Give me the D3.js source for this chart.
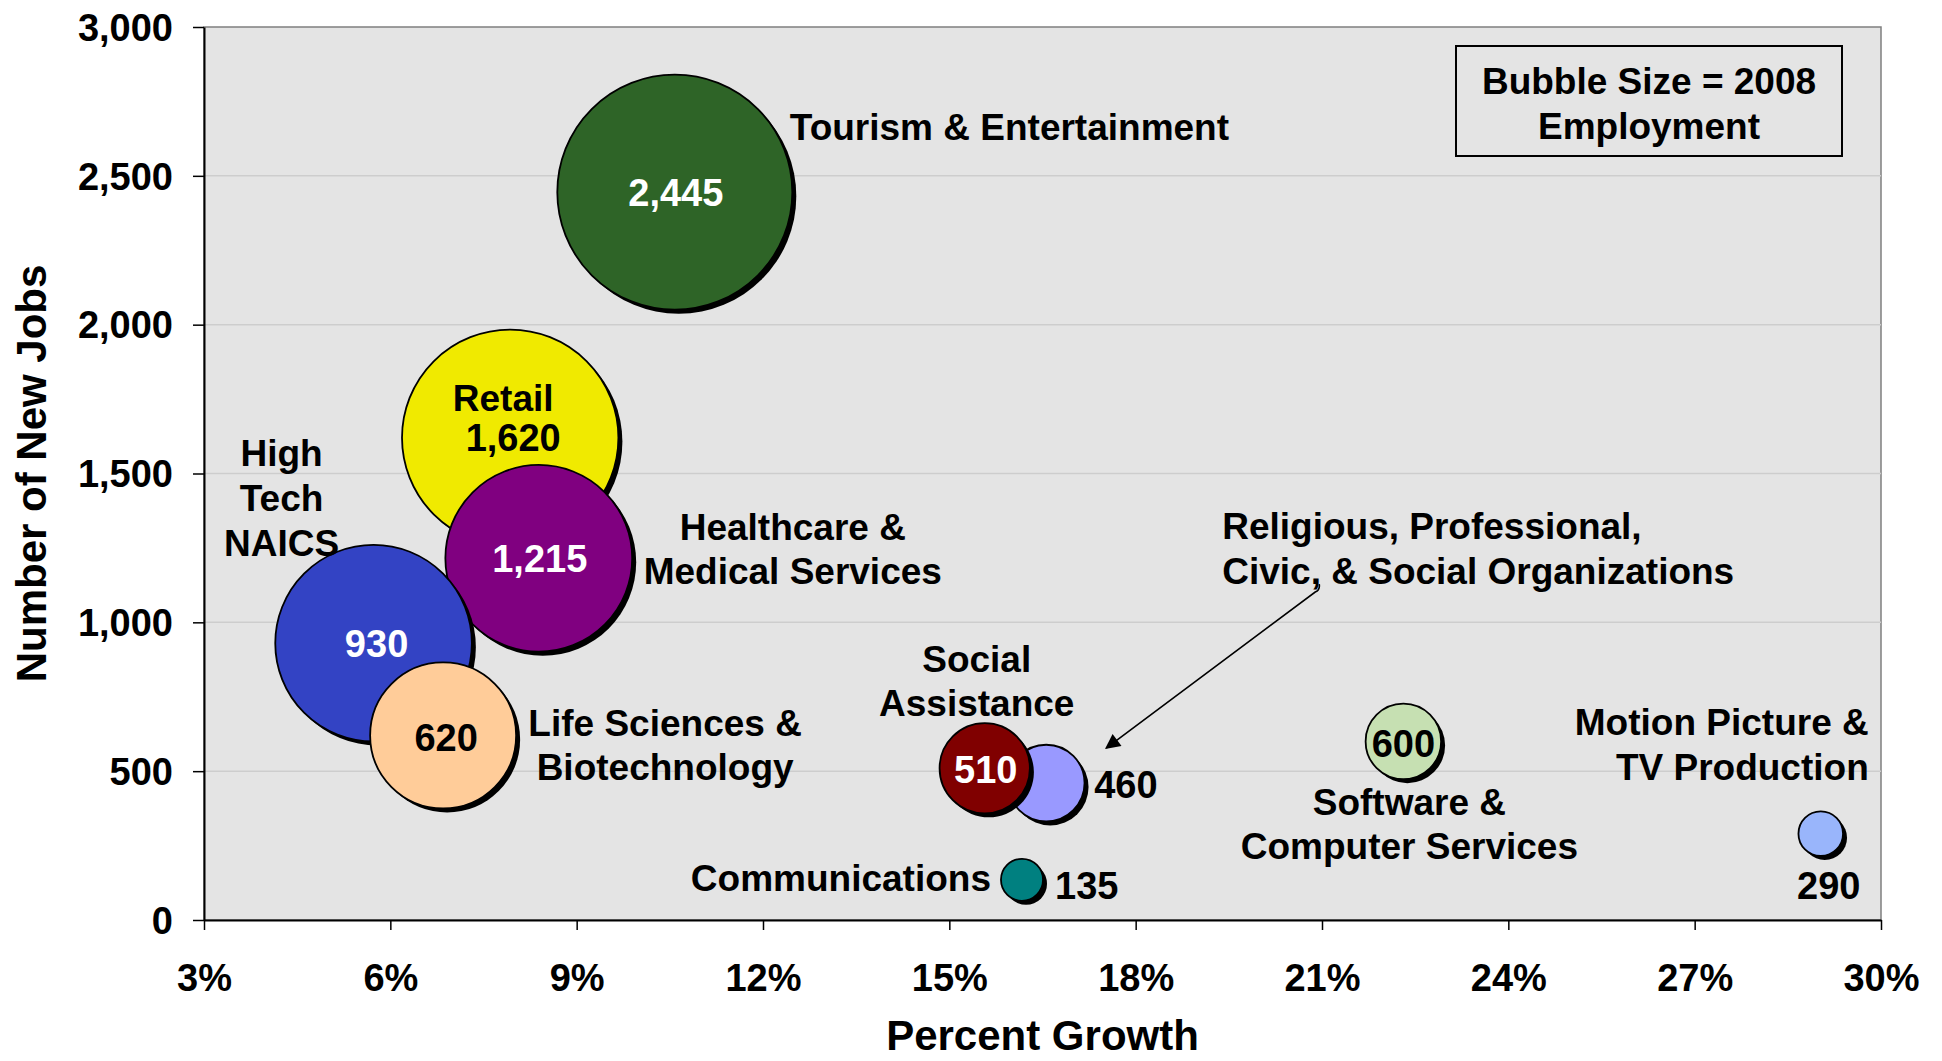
<!DOCTYPE html>
<meta charset="utf-8">
<style>
body{margin:0;background:#fff;}
svg text{font-family:"Liberation Sans",Arial,sans-serif;font-weight:bold;}
.tick text{font-size:38px;fill:#000;}
.names text{font-size:37px;}
.vals text{font-size:38px;}
</style>
<title>new jobs bubble chart</title>
<body>
<script src="https://d3js.org/d3.v7.min.js"></script>
<script>

// industry data (bubble size = 2008 employment)
var sectors = ["Tourism & Entertainment", "Retail", "Healthcare & Medical Services", "High Tech NAICS",
    "Life Sciences & Biotechnology", "Religious, Professional, Civic, & Social Organizations",
    "Social Assistance", "Communications", "Software & Computer Services", "Motion Picture & TV Production"];
var pctGrowth = [10.58, 7.93, 8.39, 5.73, 6.85, 16.56, 15.57, 16.17, 22.31, 29.03];
var newJobs = [2445, 1620, 1215, 930, 620, 460, 510, 135, 600, 290];
var employment2008 = [25000, 21200, 15800, 17500, 9650, 2660, 3690, 800, 2580, 900];
var nameLines = [["Tourism & Entertainment"], ["Retail"], ["Healthcare &", "Medical Services"], ["High", "Tech", "NAICS"],
    ["Life Sciences &", "Biotechnology"], ["Religious, Professional,", "Civic, & Social Organizations"],
    ["Social", "Assistance"], ["Communications"], ["Software &", "Computer Services"], ["Motion Picture &", "TV Production"]];

var xTicks = [3, 6, 9, 12, 15, 18, 21, 24, 27, 30];
var yTicks = [0, 500, 1000, 1500, 2000, 2500, 3000];

// styling / label placement (px offsets from bubble centre)
var fills = ["#2e6427", "#f0ea00", "#800080", "#3343c4", "#ffcc99", "#9999ff", "#800000", "#008080", "#c6e0b2", "#99b5fb"];
var layout = [
    {nx:115, ny:-66, na:"start", vx:1, vy:0, va:"middle", vc:"#fff"},
    {nx:-7, ny:-40, na:"middle", vx:3, vy:0, va:"middle", vc:"#000"},
    {nx:254, ny:-32, na:"middle", vx:1, vy:0, va:"middle", vc:"#fff"},
    {nx:-92, ny:-190, na:"middle", vx:3, vy:0, va:"middle", vc:"#fff"},
    {nx:222, ny:-13, na:"middle", vx:3, vy:2, va:"middle", vc:"#000"},
    {nx:176, ny:-257, na:"start", vx:48, vy:1, va:"start", vc:"#000"},
    {nx:-8, ny:-110, na:"middle", vx:1, vy:1, va:"middle", vc:"#fff"},
    {nx:-31, ny:-2, na:"end", vx:33, vy:6, va:"start", vc:"#000"},
    {nx:6, ny:60, na:"middle", vx:0, vy:2, va:"middle", vc:"#000"},
    {nx:48, ny:-112, na:"end", vx:8, vy:52, va:"middle", vc:"#000"}
];

var data = sectors.map(function(s, i){
    return {name:s, x:pctGrowth[i], y:newJobs[i], size:employment2008[i], lines:nameLines[i], fill:fills[i], lay:layout[i]};
});

var W = 1942, H = 1061;
var pL = 204, pR = 1881, pT = 27, pB = 920;

var svg = d3.select("body").append("svg").attr("width", W).attr("height", H);

var x = d3.scaleLinear().domain([3, 30]).range([pL, pR]);
var y = d3.scaleLinear().domain([0, 3000]).range([pB, pT]);
var r = d3.scaleSqrt().domain([0, d3.max(employment2008)]).range([0, 117.5]);

// plot area
svg.append("rect").attr("x", pL).attr("y", pT).attr("width", pR-pL).attr("height", pB-pT)
    .attr("fill", "#e4e4e4").attr("stroke", "#7f7f7f").attr("stroke-width", 1.5);

svg.append("g").selectAll("line").data(yTicks.slice(1, -1)).join("line")
    .attr("x1", pL).attr("x2", pR).attr("y1", d=>y(d)).attr("y2", d=>y(d))
    .attr("stroke", "#cdcdcd").attr("stroke-width", 1.5);

// axes
var yAxis = svg.append("g").attr("transform", "translate(" + pL + ",0)")
    .call(d3.axisLeft(y).tickValues(yTicks).tickFormat(d3.format(",")).tickSizeOuter(0).tickSizeInner(11).tickPadding(20));
var xAxis = svg.append("g").attr("transform", "translate(0," + pB + ")")
    .call(d3.axisBottom(x).tickValues(xTicks).tickFormat(d=>d + "%").tickSizeOuter(0).tickSizeInner(10).tickPadding(34));
[yAxis, xAxis].forEach(function(a){
    a.select(".domain").attr("stroke", "#000").attr("stroke-width", 2);
    a.selectAll(".tick line").attr("stroke", "#000").attr("stroke-width", 1.5);
});
yAxis.selectAll(".tick text").attr("dy", "0.35em");

svg.append("text").attr("text-anchor", "middle").attr("font-size", 42)
    .attr("transform", "translate(46," + (pT+pB)/2 + ") rotate(-90)").text("Number of New Jobs");
svg.append("text").attr("text-anchor", "middle").attr("font-size", 42)
    .attr("x", (pL+pR)/2).attr("y", 1050).text("Percent Growth");

// bubbles: shadow then bubble, in series order
var bub = svg.append("g").selectAll("g").data(data).join("g");
bub.append("circle").attr("cx", d=>x(d.x)+4).attr("cy", d=>y(d.y)+4).attr("r", d=>r(d.size)).attr("fill", "#000");
bub.append("circle").attr("cx", d=>x(d.x)).attr("cy", d=>y(d.y)).attr("r", d=>r(d.size))
    .attr("fill", d=>d.fill).attr("stroke", "#000").attr("stroke-width", 1.8);

// value labels
svg.append("g").attr("class", "vals").selectAll("text").data(data).join("text")
    .attr("x", d=>x(d.x)+d.lay.vx).attr("y", d=>y(d.y)+d.lay.vy).attr("dy", "0.36em")
    .attr("text-anchor", d=>d.lay.va).attr("fill", d=>d.lay.vc)
    .text(d=>d3.format(",")(d.y));

// name labels
var lh = 44.6;
svg.append("g").attr("class", "names").selectAll("text").data(data).join("text")
    .attr("text-anchor", d=>d.lay.na).attr("fill", "#000")
    .each(function(d){
        var t = d3.select(this);
        d.lines.forEach(function(l, k){
            t.append("tspan").attr("x", x(d.x)+d.lay.nx).attr("y", y(d.y)+d.lay.ny+k*lh).attr("dy", "0.36em").text(l);
        });
    });

// arrow from Religious label to its bubble
var rel = data[5];
svg.append("defs").append("marker").attr("id", "ah").attr("viewBox", "0 0 10 10")
    .attr("refX", 9).attr("refY", 5).attr("markerWidth", 18).attr("markerHeight", 15)
    .attr("markerUnits", "userSpaceOnUse").attr("orient", "auto")
    .append("path").attr("d", "M0,0L10,5L0,10z").attr("fill", "#000");
svg.append("path")
    .attr("d", "M" + (x(rel.x)+273) + "," + (y(rel.y)-199) + "Q" + (x(rel.x)+274) + "," + (y(rel.y)-193) + " " + (x(rel.x)+269) + "," + (y(rel.y)-191)
        + "L" + (x(rel.x)+60) + "," + (y(rel.y)-35))
    .attr("stroke", "#000").attr("stroke-width", 1.6).attr("fill", "none").attr("marker-end", "url(#ah)");

// legend note
var lg = svg.append("g");
lg.append("rect").attr("x", 1456).attr("y", 46).attr("width", 386).attr("height", 110)
    .attr("fill", "none").attr("stroke", "#000").attr("stroke-width", 2);
lg.append("text").attr("text-anchor", "middle").attr("font-size", 37)
    .selectAll("tspan").data(["Bubble Size = 2008", "Employment"]).join("tspan")
    .attr("x", 1649).attr("y", (d, i)=>81 + i*lh).attr("dy", "0.36em").text(d=>d);
</script>
</body>
</html>
